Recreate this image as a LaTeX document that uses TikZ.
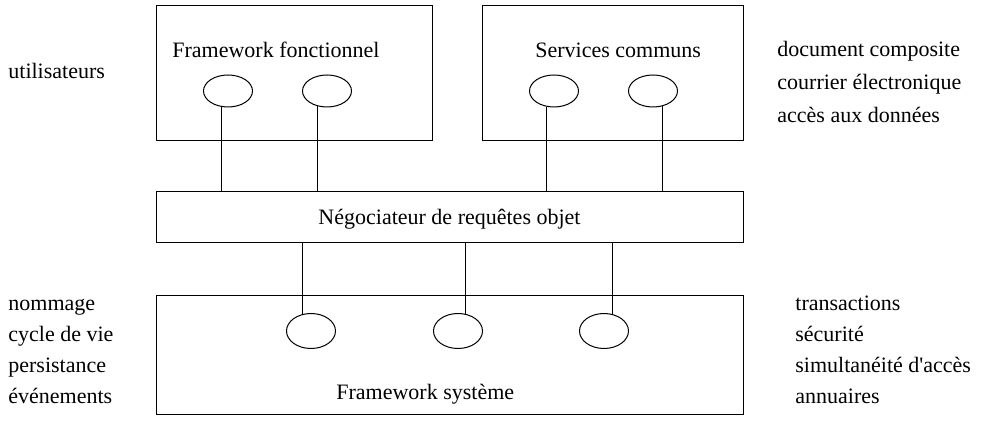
\documentclass[tikz,border=0pt]{standalone}
\usepackage{fontspec}
\setmainfont{Liberation Serif}
\usetikzlibrary{shapes.geometric}
\tikzset{
  bloc/.style={draw,line width=0.5pt,inner sep=0pt},
  port/.style={draw,ellipse,line width=0.5pt,inner sep=0pt,minimum width=24.5pt,minimum height=16pt},
  lien/.style={line width=0.5pt},
  txt/.style={font=\fontsize{11}{13}\selectfont,inner sep=0pt,anchor=base west},
}
\begin{document}
\begin{tikzpicture}[x=0.5pt,y=-0.5pt]
\useasboundingbox (0,0) rectangle (981,422);
% boites (unites = pixels de la figure, origine en haut a gauche)
\node[bloc,minimum width=138pt,minimum height=67.5pt] (ff) at (294,73.5) {};
\node[bloc,minimum width=130.5pt,minimum height=67.5pt] (sc) at (612.5,73.5) {};
\node[bloc,minimum width=293.5pt,minimum height=25.5pt] (orb) at (449.5,217.5) {};
\node[bloc,minimum width=293.5pt,minimum height=59.5pt] (fs) at (449.5,355.5) {};
\node[txt] (ffT) at (172,58) {Framework fonctionnel};
\node[txt] (scT) at (535,58) {Services communs};
\node[txt,anchor=base] (orbT) at (449.5,225) {Négociateur de requêtes objet};
\node[txt] (fsT) at (336,400) {Framework système};
% interfaces
\node[port] (ff1) at (228,91) {};
\node[port] (ff2) at (327,91) {};
\node[port] (sc1) at (554,91) {};
\node[port] (sc2) at (653,91) {};
\node[port,minimum height=17.5pt] (fs1) at (311,331) {};
\node[port,minimum height=17.5pt] (fs2) at (458,331) {};
\node[port,minimum height=17.5pt] (fs3) at (604,331) {};
\foreach \e/\a in {ff1/-111,ff2/-121,sc1/-115,sc2/-59} \draw[lien] (\e.\a) -- (\e.\a |- orb.north);
\foreach \e/\a in {fs1/116,fs2/67,fs3/64} \draw[lien] (\e.\a) -- (\e.\a |- orb.south);
% listes laterales
\node[txt] (util) at (8,79) {utilisateurs};
\node[txt] (doc) at (777,57) {document composite};
\node[txt] (mail) at (777,90) {courrier électronique};
\node[txt] (data) at (777,123) {accès aux données};
\node[txt] (nom) at (8,311) {nommage};
\node[txt] (cyc) at (8,342) {cycle de vie};
\node[txt] (pers) at (8,373) {persistance};
\node[txt] (evt) at (8,404) {événements};
\node[txt] (trans) at (795,311) {transactions};
\node[txt] (secu) at (795,342) {sécurité};
\node[txt] (simu) at (795,373) {simultanéité d\textquotesingle accès};
\node[txt] (ann) at (795,404) {annuaires};
\end{tikzpicture}
\end{document}
